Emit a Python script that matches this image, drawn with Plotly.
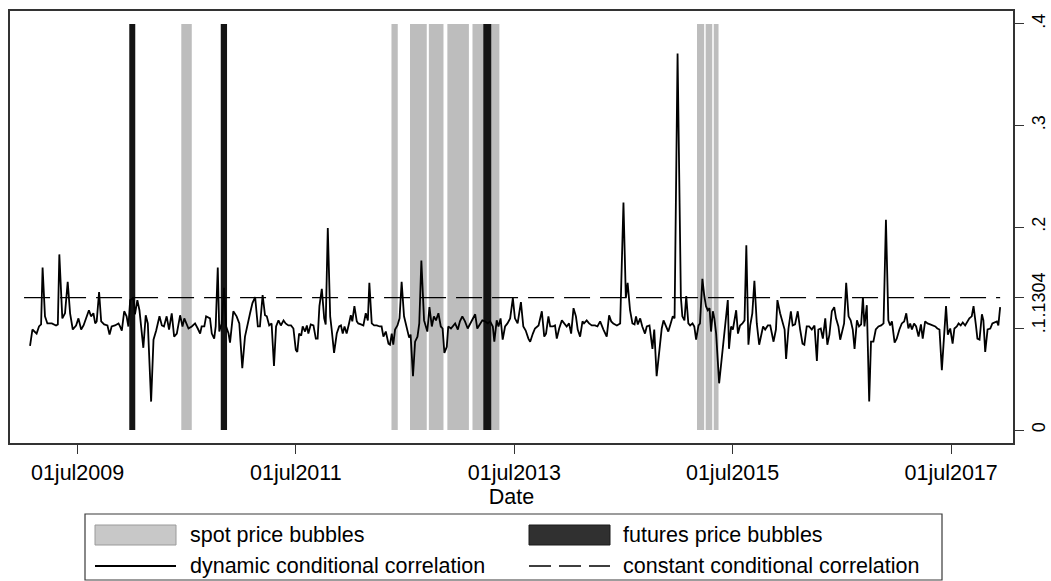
import pandas as pd
import plotly.graph_objects as go

# dates are stored as days since 1 Jan 2009
BASE = pd.Timestamp("2009-01-01")

# dynamic conditional correlation
dcc_day = [
    22, 30, 44, 52, 59, 64, 72, 80, 95, 109, 115, 120, 130, 139, 148, 156, 165, 176, 184, 193,
    201, 212, 219, 226, 234, 240, 245, 253, 260, 270, 281, 288, 295, 306, 318, 323, 329, 337, 345, 351,
    357, 368, 373, 381, 388, 401, 409, 416, 427, 435, 444, 455, 463, 470, 479, 487, 496, 504, 513, 524,
    532, 538, 546, 552, 563, 574, 583, 591, 596, 605, 611, 624, 630, 638, 643, 650, 655, 663, 671, 678,
    686, 691, 702, 713, 722, 732, 741, 750, 758, 766, 775, 784, 791, 800, 808,
    814, 822, 830, 838, 845, 853, 861, 870, 877, 886, 895, 903, 911, 916, 922, 929, 934, 942, 948, 953,
    961, 970, 978, 984, 990, 998, 1006, 1011, 1018, 1026, 1031, 1039, 1048, 1056, 1062, 1068, 1074, 1081, 1089, 1095,
    1100, 1107, 1115, 1120, 1129, 1137, 1145, 1152, 1157, 1165, 1173, 1182, 1191, 1198, 1204, 1212, 1221, 1226, 1232, 1237,
    1243, 1251, 1258, 1265, 1273, 1282, 1290, 1295, 1303, 1310, 1318, 1324, 1331, 1340, 1346, 1351, 1358, 1366, 1373, 1380,
    1388, 1396, 1402, 1408, 1416, 1421, 1430, 1436, 1444, 1453, 1460, 1468, 1477, 1486, 1494, 1502, 1511, 1518, 1527, 1535,
    1544, 1553, 1561, 1570, 1575, 1583, 1589, 1596, 1603, 1611, 1619, 1628, 1637, 1644, 1653,
    1664, 1672, 1680, 1689, 1695, 1704, 1711, 1723, 1734, 1742, 1748, 1756, 1762, 1771, 1778, 1784, 1792, 1801, 1808, 1817,
    1825, 1832, 1840, 1848, 1854, 1862, 1870, 1875, 1884, 1892, 1901, 1912, 1920, 1929, 1940, 1951, 1959, 1966, 1973, 1985,
    1996, 2007, 2015, 2021, 2029, 2037, 2044, 2049, 2055, 2063, 2070, 2079, 2085, 2094, 2104, 2110, 2118, 2126, 2135, 2141,
    2149, 2157, 2165, 2172, 2178, 2188, 2199, 2204, 2211, 2217, 2224, 2230, 2238, 2244, 2250, 2258, 2263, 2271, 2277, 2283,
    2289, 2295, 2300, 2306, 2311, 2317, 2327, 2336, 2347, 2356, 2360, 2367, 2373, 2384, 2390, 2397, 2405, 2412, 2418, 2425,
    2431, 2438, 2445, 2453,
    2461, 2468, 2474, 2481, 2490, 2498, 2509, 2517, 2522, 2531, 2539, 2546, 2551, 2559, 2567, 2573, 2581, 2590, 2598, 2606,
    2612, 2620, 2628, 2637, 2646, 2654, 2659, 2667, 2674, 2682, 2689, 2696, 2704, 2712, 2718, 2726, 2732, 2740, 2745, 2752,
    2760, 2767, 2774, 2780, 2788, 2795, 2802, 2808, 2813, 2821, 2829, 2835, 2843, 2851, 2860, 2869, 2877, 2885, 2893, 2899,
    2905, 2914, 2921, 2930, 2938, 2946, 2953, 2960, 2966, 2972, 2979, 2986, 2994, 3002, 3008, 3016, 3024, 3033, 3042, 3050,
    3057, 3064, 3072, 3080, 3086, 3092, 3100, 3108, 3114, 3122, 3128, 3135, 3142, 3150, 3158, 3164, 3172, 3178, 3186, 3191,
    3198, 3206, 3211, 3217, 3225, 3234, 3241, 3248, 3256, 3261, 3267,
]
dcc_val = [
    .083, .099, .095, .102, .104, .160, .112, .105, .105, .103, .104, .173, .110, .115, .146, .115, .099, .103, .110, .099,
    .103, .112, .118, .112, .115, .105, .107, .136, .107, .104, .103, .094, .102, .103, .105, .102, .098, .117, .112, .102,
    .128, .130, .114, .128, .118, .081, .113, .105, .028, .089, .098, .112, .103, .102, .112, .099, .115, .092, .095, .113,
    .102, .110, .103, .100, .102, .105, .100, .095, .102, .102, .112, .110, .095, .090, .102, .160, .097, .105, .140, .102,
    .095, .086, .117, .112, .105, .061, .092, .106, .115, .125, .131, .102, .102, .133, .113,
    .112, .103, .105, .063, .102, .108, .103, .108, .105, .103, .103, .100, .079, .077, .095, .093, .102, .097, .103, .095,
    .104, .103, .090, .090, .122, .139, .110, .104, .199, .112, .099, .076, .095, .102, .103, .095, .102, .095, .105, .113,
    .107, .122, .107, .105, .104, .103, .115, .108, .145, .105, .103, .103, .102, .102, .092, .097, .085, .084, .095, .084,
    .099, .103, .110, .146, .112, .102, .091, .094, .053, .087, .092, .105, .167, .108, .101, .097, .121, .102, .112, .108,
    .115, .102, .100, .076, .082, .102, .100, .102, .105, .099, .107, .112, .107, .100, .105, .110, .114, .100, .105, .108,
    .107, .105, .107, .102, .087, .108, .102, .110, .089, .102, .105, .110, .130, .110, .105,
    .126, .102, .098, .090, .087, .095, .100, .103, .117, .092, .095, .112, .102, .102, .103, .090, .100, .108, .105, .102,
    .105, .095, .120, .112, .099, .092, .107, .105, .108, .105, .103, .103, .102, .107, .099, .092, .113, .107, .105, .103,
    .105, .224, .130, .145, .118, .105, .104, .112, .104, .110, .102, .095, .102, .103, .080, .099, .053, .079, .100, .108,
    .103, .097, .105, .112, .110, .371, .131, .112, .108, .132, .105, .103, .105, .102, .089, .103, .105, .149, .133, .122,
    .118, .120, .097, .117, .110, .095, .046, .072, .108, .128, .080, .102, .099, .118, .095, .103, .105, .108, .182, .084,
    .103, .115, .147, .105,
    .084, .095, .102, .099, .103, .103, .087, .099, .128, .115, .107, .099, .070, .100, .117, .103, .104, .117, .099, .085,
    .084, .102, .102, .099, .103, .068, .099, .100, .090, .110, .084, .094, .117, .121, .110, .102, .089, .099, .105, .145,
    .112, .108, .099, .080, .108, .102, .104, .131, .102, .123, .028, .087, .087, .099, .102, .103, .105, .207, .108, .103,
    .107, .086, .090, .099, .105, .107, .115, .100, .105, .099, .105, .102, .092, .104, .090, .107, .105, .104, .103, .102,
    .100, .099, .059, .092, .122, .094, .100, .085, .100, .102, .105, .103, .106, .103, .107, .110, .112, .122, .103, .090,
    .089, .114, .108, .077, .099, .100, .105, .106, .107, .103, .121,
]

# constant conditional correlation
ccc_value = 0.1304
ccc_day = [2, 3267]

# bubble periods (start / end, days since 1 Jan 2009)
spot_start = [528, 1231, 1293, 1356, 1418, 1502, 1565, 2253, 2282, 2309]
spot_end = [563, 1252, 1349, 1405, 1490, 1538, 1592, 2277, 2304, 2325]
fut_start = [354, 660, 1538]
fut_end = [374, 681, 1565]
bubble_top = 0.4

y_ticks = [0, 0.1, 0.1304, 0.2, 0.3, 0.4]
y_labels = ["0", ".1", ".1304", ".2", ".3", ".4"]
x_ticks = ["2009-07-01", "2011-07-01", "2013-07-01", "2015-07-01", "2017-07-01"]
x_labels = ["01jul2009", "01jul2011", "01jul2013", "01jul2015", "01jul2017"]

legend_labels = ["spot price bubbles", "futures price bubbles",
                 "dynamic conditional correlation", "constant conditional correlation"]

FONT = "Arial, 'Liberation Sans', sans-serif"
FS = 21.5
SPOT_COLOR = "#bdbdbd"
FUT_COLOR = "#141414"


def to_date(days):
    return [BASE + pd.Timedelta(days=d) for d in days]


def band_path(starts, ends, top):
    xs, ys = [], []
    for s, e in zip(to_date(starts), to_date(ends)):
        xs += [s, s, e, e, s, None]
        ys += [0, top, top, 0, 0, None]
    return xs, ys


fig = go.Figure()

sx, sy = band_path(spot_start, spot_end, bubble_top)
fig.add_trace(go.Scatter(x=sx, y=sy, fill="toself", fillcolor=SPOT_COLOR, mode="lines",
                         line=dict(width=0, color=SPOT_COLOR), name=legend_labels[0],
                         hoverinfo="skip"))
fx, fy = band_path(fut_start, fut_end, bubble_top)
fig.add_trace(go.Scatter(x=fx, y=fy, fill="toself", fillcolor=FUT_COLOR, mode="lines",
                         line=dict(width=0, color=FUT_COLOR), name=legend_labels[1],
                         hoverinfo="skip"))

fig.add_trace(go.Scatter(x=to_date(dcc_day), y=dcc_val, mode="lines",
                         line=dict(color="black", width=1.8), name=legend_labels[2]))
fig.add_trace(go.Scatter(x=to_date(ccc_day), y=[ccc_value] * len(ccc_day), mode="lines",
                         line=dict(color="black", width=1.4, dash="26px,10px"),
                         name=legend_labels[3]))

# plot area in pixels: x 10..1013, y 11..443
L, R, T, B = 10, 1013, 11, 443


def px(x):
    return (x - L) / (R - L)


def py(y):
    return (B - y) / (B - T)


shapes = [
    # legend frame and keys
    dict(type="rect", xref="paper", yref="paper", x0=px(85), x1=px(942), y0=py(580), y1=py(514),
         line=dict(color="#3a3a3a", width=1.2), fillcolor="white"),
    dict(type="rect", xref="paper", yref="paper", x0=px(95), x1=px(176), y0=py(545), y1=py(525),
         line=dict(color="#9a9a9a", width=1), fillcolor="#c8c8c8"),
    dict(type="rect", xref="paper", yref="paper", x0=px(529), x1=px(610), y0=py(545), y1=py(525),
         line=dict(color="#1a1a1a", width=1), fillcolor="#303030"),
    dict(type="line", xref="paper", yref="paper", x0=px(95), x1=px(176), y0=py(566), y1=py(566),
         line=dict(color="black", width=1.8)),
    dict(type="line", xref="paper", yref="paper", x0=px(529), x1=px(610), y0=py(566), y1=py(566),
         line=dict(color="black", width=1.4, dash="22px,8px")),
]

annotations = []
for label, (ax, ay) in zip(legend_labels, [(188, 535), (621, 535), (188, 566), (621, 566)]):
    annotations.append(dict(text=label, xref="paper", yref="paper", x=px(ax), y=py(ay),
                            xanchor="left", yanchor="middle", showarrow=False,
                            font=dict(size=FS, color="black", family=FONT)))

fig.update_layout(
    width=1051, height=581,
    margin=dict(l=L, r=1051 - R, t=T, b=581 - B),
    paper_bgcolor="white", plot_bgcolor="white",
    showlegend=False,
    font=dict(family=FONT, size=FS, color="black"),
    shapes=shapes, annotations=annotations,
    xaxis=dict(
        type="date", range=["2008-11-17", "2018-01-24"],
        tickvals=x_ticks, ticktext=x_labels, ticks="outside", ticklen=9,
        tickcolor="#333", tickwidth=1.2, tickfont=dict(size=FS),
        showline=True, linecolor="#333", linewidth=1.5, mirror=True,
        showgrid=False, zeroline=False, automargin=False,
        title=dict(text="Date", font=dict(size=FS), standoff=0),
    ),
    yaxis=dict(
        side="right", range=[-0.0128, 0.4128],
        tickvals=y_ticks, ticktext=y_labels, ticks="outside", ticklen=9,
        tickcolor="#333", tickwidth=1.2, tickangle=-90, tickfont=dict(size=18),
        showline=True, linecolor="#333", linewidth=1.5, mirror=True,
        showgrid=False, zeroline=False, automargin=False,
    ),
)

fig.write_html("out.html", config={"displayModeBar": False},
               post_script="document.body.style.margin='0';")
